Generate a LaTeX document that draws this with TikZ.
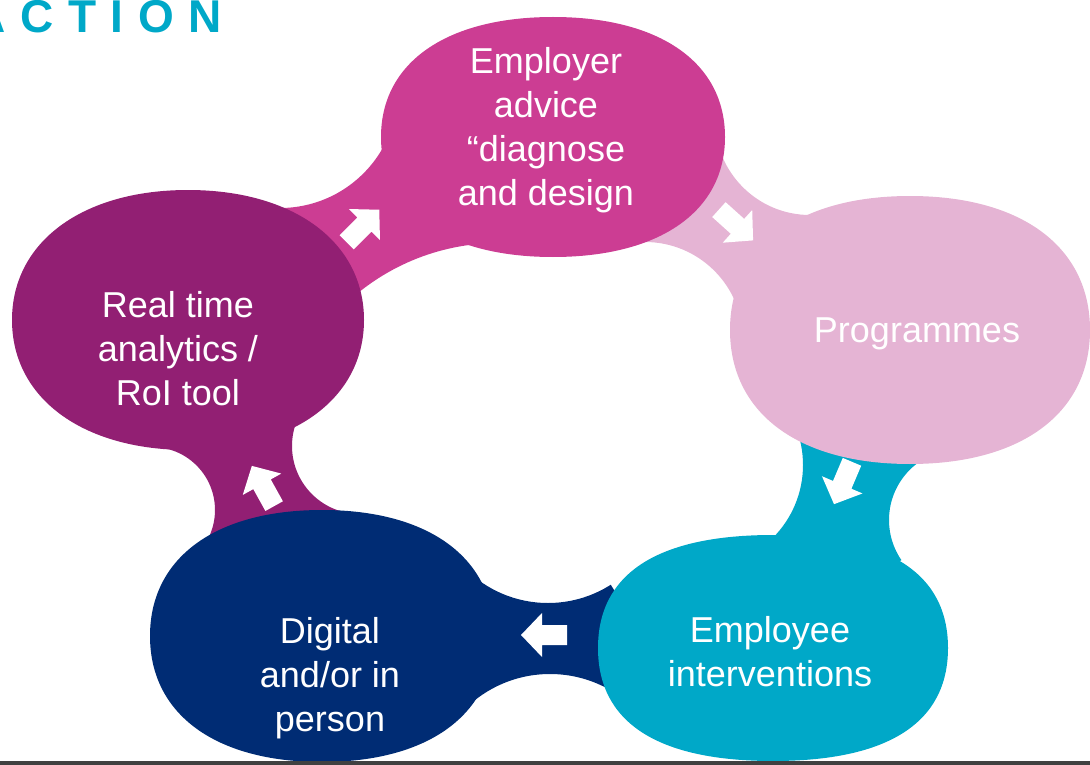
\documentclass[tikz,border=0pt]{standalone}
\usepackage{fontspec}
\setmainfont{Liberation Sans}
\definecolor{cmag}{RGB}{204,61,147}
\definecolor{cpink}{RGB}{229,180,212}
\definecolor{cteal}{RGB}{0,168,200}
\definecolor{cnavy}{RGB}{0,44,116}
\definecolor{cpurple}{RGB}{146,31,115}
\definecolor{cfoot}{RGB}{64,64,64}

\begin{document}
\begin{tikzpicture}[x=1pt,y=-1pt,
        lbl/.style={text=white, align=center, inner sep=0pt,
                        font=\fontsize{36}{44}\selectfont},
        arr/.pic={\fill[white] (23,0) -- (2,22) -- (2,10) -- (-23,10)
                        -- (-23,-10) -- (2,-10) -- (2,-22) -- cycle;}]
    \useasboundingbox (0,0) rectangle (1090,765);
    % blob centres
    \coordinate (T) at (553,137);
    \coordinate (R) at (910,330);
    \coordinate (BR) at (773,648);
    \coordinate (BL) at (322,636);
    \coordinate (L) at (188,320);
    % centres of the circles that hollow out the necks
    \coordinate (o1) at (280,90);  \coordinate (i1) at (499,467);
    \coordinate (o2) at (810,120); \coordinate (i2) at (645,340);
    \coordinate (o3) at (960,520); \coordinate (i3) at (700,465);
    \coordinate (o4) at (550,795); \coordinate (i4) at (548,486);
    \coordinate (o5) at (152,510); \coordinate (i5) at (360,446);
    \coordinate (q4) at (642,634); \coordinate (q5) at (340,600);

    % necks between neighbouring blobs
    \foreach \src/\oc/\dst/\ic/\q/\ro/\ri/\col in {
            L/o1/T/i1/L/118/224/cmag,
            T/o2/R/i2/T/95/98/cpink,
            R/o3/BR/i3/R/71/103/cteal,
            BR/o4/BL/i4/q4/121/117/cnavy,
            BL/o5/L/i5/q5/63/68/cpurple}{
        \begin{scope}
            \clip (\src) -- (\oc) -- (\dst) -- (\ic) -- (\q) -- cycle;
            \fill[\col, even odd rule] (-50,-50) rectangle (1150,850)
                (\oc) circle[radius=\ro] (\ic) circle[radius=\ri];
        \end{scope}
    }

    % blobs
    \foreach \n/\col/\bw/\bh/\k in {T/cmag/172/120/0.62, R/cpink/180/134/0.62,
            BR/cteal/175/113/0.66, BL/cnavy/172/126/0.62, L/cpurple/176/130/0.6}
        \fill[\col, shift={(\n)}] (\bw,0) .. controls (\bw,\k*\bh) and (\k*\bw,\bh) .. (0,\bh)
            .. controls (-\k*\bw,\bh) and (-\bw,\k*\bh) .. (-\bw,0)
            .. controls (-\bw,-\k*\bh) and (-\k*\bw,-\bh) .. (0,-\bh)
            .. controls (\k*\bw,-\bh) and (\bw,-\k*\bh) .. (\bw,0) -- cycle;

    \foreach \x/\y/\t in {363/226/45, 736/225/-42, 843/483/-113,
            544/635/180, 263/486/119}
        \pic[rotate=\t] at (\x,\y) {arr};

    \node[lbl] (empl) at (546,130) {Employer\\advice\\``diagnose\\and design};
    \node[lbl] (prog) at (917,334) {Programmes};
    \node[lbl] (intv) at (770,652) {Employee\\interventions};
    \node[lbl] (dig) at (330,678) {Digital\\and/or in\\person};
    \node[lbl] (rt) at (178,349) {Real time\\analytics /\\RoI tool};

    \fill[cfoot] (0,761) rectangle (1090,765);
    \node[anchor=base west, inner sep=0pt, text=cteal,
        font=\fontsize{46}{46}\bfseries\addfontfeatures{LetterSpace=32}] (ttl)
        at (-28,33) {ACTION};
\end{tikzpicture}
\end{document}
